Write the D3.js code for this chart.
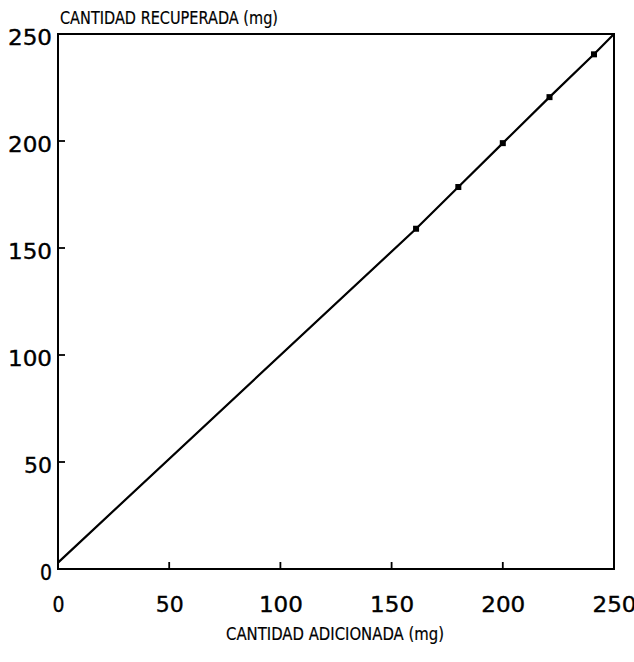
<!DOCTYPE html>
<html><head><meta charset="utf-8">
<script src="https://cdn.jsdelivr.net/npm/d3@7"></script>
<style>body{margin:0;background:#fff}svg{display:block}</style>
</head><body>
<svg id="c" width="634" height="662"></svg>
<script>
const xTicks = [0, 50, 100, 150, 200, 250];
const yTicks = [0, 50, 100, 150, 200, 250];
const pointsX = [161, 180, 200, 221, 241];
const pointsY = [159, 178.5, 199, 220.5, 240.5];
const lineX = [0, 161, 180, 200, 221, 241, 250];
const lineY = [3, 159, 178.5, 199, 220.5, 240.5, 250];
const xTitle = "CANTIDAD ADICIONADA (mg)";
const yTitle = "CANTIDAD RECUPERADA (mg)";

const svg = d3.select("#c");
const L = 58, R = 614, T = 34, B = 569;
const x = d3.scaleLinear().domain([0, 250]).range([L, R]);
const y = d3.scaleLinear().domain([0, 250]).range([B, T]);
const font = "'DejaVu Sans', sans-serif";
const tl = s => 16 * s.length - 4;

svg.append("rect").attr("x", L).attr("y", T).attr("width", R - L).attr("height", B - T)
  .attr("fill", "none").attr("stroke", "#000").attr("stroke-width", 2);

const xa = svg.append("g").attr("transform", `translate(0,${B})`)
  .call(d3.axisBottom(x).tickValues(xTicks).tickSize(0).tickPadding(28).tickFormat(d3.format("d")));
xa.select(".domain").remove();
xa.selectAll("text").attr("font-family", font).attr("font-size", 20.5).attr("fill", "#000")
  .attr("stroke", "#000").attr("stroke-width", 0.35)
  .attr("textLength", function () { return tl(this.textContent); }).attr("lengthAdjust", "spacingAndGlyphs");
svg.append("g").selectAll("line").data(xTicks.slice(1, -1)).join("line")
  .attr("x1", d => x(d)).attr("x2", d => x(d)).attr("y1", B).attr("y2", B - 7)
  .attr("stroke", "#000").attr("stroke-width", 1.8);

const ya = svg.append("g").attr("transform", `translate(${L},0)`)
  .call(d3.axisLeft(y).tickValues(yTicks).tickSize(0).tickPadding(6).tickFormat(d3.format("d")));
ya.select(".domain").remove();
ya.selectAll("text").attr("font-family", font).attr("font-size", 20.5).attr("fill", "#000")
  .attr("stroke", "#000").attr("stroke-width", 0.35)
  .attr("dy", "0.5em")
  .attr("textLength", function () { return tl(this.textContent); }).attr("lengthAdjust", "spacingAndGlyphs");
svg.append("g").selectAll("line").data(yTicks.slice(1, -1)).join("line")
  .attr("x1", L).attr("x2", L + 7).attr("y1", d => y(d)).attr("y2", d => y(d))
  .attr("stroke", "#000").attr("stroke-width", 1.8);

const lineData = lineX.map((v, i) => [v, lineY[i]]);
svg.append("path").datum(lineData)
  .attr("d", d3.line().x(d => x(d[0])).y(d => y(d[1])))
  .attr("fill", "none").attr("stroke", "#000").attr("stroke-width", 2.2);

svg.append("g").selectAll("rect").data(pointsX.map((v, i) => [v, pointsY[i]])).join("rect")
  .attr("x", d => x(d[0]) - 3).attr("y", d => y(d[1]) - 3).attr("width", 6).attr("height", 6)
  .attr("fill", "#000");

svg.append("text").attr("x", L + 2).attr("y", 24).text(yTitle)
  .attr("font-family", font).attr("font-size", 17.5).attr("fill", "#000")
  .attr("stroke", "#000").attr("stroke-width", 0.2)
  .attr("textLength", 218).attr("lengthAdjust", "spacingAndGlyphs");
svg.append("text").attr("x", 335).attr("y", 640).attr("text-anchor", "middle").text(xTitle)
  .attr("font-family", font).attr("font-size", 17.5).attr("fill", "#000")
  .attr("stroke", "#000").attr("stroke-width", 0.2)
  .attr("textLength", 218).attr("lengthAdjust", "spacingAndGlyphs");
</script>
</body></html>
